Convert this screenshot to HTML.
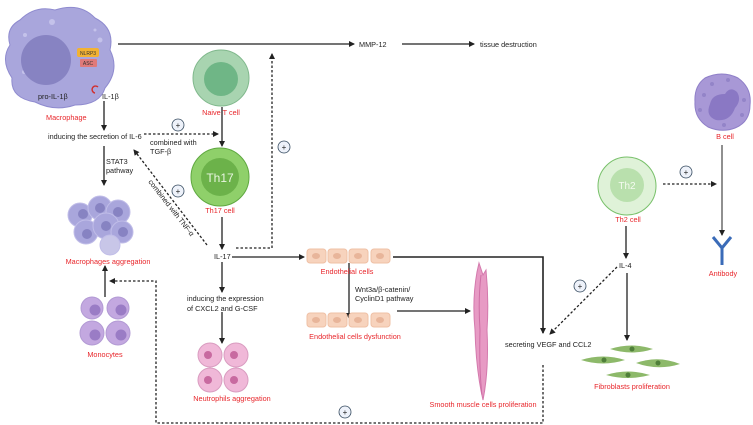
<!DOCTYPE html>
<html><head><meta charset="utf-8"><style>
html,body{margin:0;padding:0;background:#fff}
svg{display:block;font-family:"Liberation Sans",sans-serif}
.t{font-size:7.3px;fill:#222}
.r{font-size:7.3px;fill:#e8262b}
</style></head><body>
<svg width="753" height="425" viewBox="0 0 753 425" xmlns="http://www.w3.org/2000/svg">
<defs>
<marker id="a" markerWidth="6" markerHeight="6" refX="5" refY="3" orient="auto" markerUnits="userSpaceOnUse"><path d="M0,0 L6,3 L0,6z" fill="#222"/></marker>
</defs>
<g stroke="#222" stroke-width="1.3" fill="none">
<line x1="118" y1="44" x2="354" y2="44" marker-end="url(#a)"/>
<line x1="402" y1="44" x2="474" y2="44" marker-end="url(#a)"/>
<line x1="72" y1="90" x2="90" y2="90" marker-end="url(#a)" stroke-width="1.6"/>
<line x1="88" y1="70" x2="88" y2="83" stroke-dasharray="2,2" marker-end="url(#a)"/>
<line x1="104" y1="101" x2="104" y2="130" marker-end="url(#a)"/>
<line x1="144" y1="134" x2="218" y2="134" stroke-dasharray="2.5,2" marker-end="url(#a)"/>
<line x1="222" y1="107" x2="222" y2="146" marker-end="url(#a)"/>
<line x1="104" y1="146" x2="104" y2="185" marker-end="url(#a)"/>
<line x1="222" y1="217" x2="222" y2="249" marker-end="url(#a)"/>
<polyline points="236,248 272,248 272,54" stroke-dasharray="2.5,2" marker-end="url(#a)"/>
<line x1="207" y1="245" x2="134" y2="150" stroke-dasharray="2.5,2" marker-end="url(#a)"/>
<line x1="232" y1="257" x2="304" y2="257" marker-end="url(#a)"/>
<line x1="222" y1="262" x2="222" y2="292" marker-end="url(#a)"/>
<line x1="222" y1="312" x2="222" y2="343" marker-end="url(#a)"/>
<line x1="105" y1="297" x2="105" y2="266" marker-end="url(#a)"/>
<polyline points="543,365 543,423 156,423 156,281 110,281" stroke-dasharray="2.5,2" marker-end="url(#a)"/>
<polyline points="393,257 543,257 543,333" stroke-width="1.6" marker-end="url(#a)"/>
<line x1="349" y1="263" x2="349" y2="318" marker-end="url(#a)"/>
<line x1="397" y1="311" x2="470" y2="311" marker-end="url(#a)"/>
<line x1="617" y1="267" x2="550" y2="334" stroke-dasharray="2.5,2" marker-end="url(#a)"/>
<line x1="626" y1="226" x2="626" y2="258" marker-end="url(#a)"/>
<line x1="627" y1="273" x2="627" y2="340" marker-end="url(#a)"/>
<line x1="663" y1="184" x2="716" y2="184" stroke-dasharray="2.5,2" marker-end="url(#a)"/>
<line x1="722" y1="145" x2="722" y2="235" stroke="#555" marker-end="url(#a)"/>
</g>
<g fill="#eef2fa" stroke="#34495e" stroke-width="0.8">
<circle cx="178" cy="125" r="6"/><circle cx="178" cy="191" r="6"/><circle cx="284" cy="147" r="6"/>
<circle cx="345" cy="412" r="6"/><circle cx="580" cy="286" r="6"/><circle cx="686" cy="172" r="6"/>
</g>
<g font-size="8" fill="#222" text-anchor="middle">
<text x="178" y="128">+</text><text x="178" y="194">+</text><text x="284" y="150">+</text>
<text x="345" y="415">+</text><text x="580" y="289">+</text><text x="686" y="175">+</text>
</g>
<!-- macrophage -->
<path d="M20,20 Q35,5 55,10 Q80,2 95,18 Q115,28 110,50 Q120,70 105,88 Q100,105 75,105 Q55,112 35,102 Q10,98 12,78 Q0,60 10,45 Q5,28 20,20z" fill="#a9a6dc" stroke="#8f8bcf"/>
<g fill="#c4c2ea"><circle cx="52" cy="22" r="3"/><circle cx="25" cy="35" r="2"/><circle cx="100" cy="40" r="2.5"/><circle cx="24" cy="72" r="2"/><circle cx="95" cy="30" r="1.5"/></g>
<circle cx="46" cy="60" r="25" fill="#8783c2"/>
<rect x="77" y="48" width="22" height="9" rx="2" fill="#f2b233"/>
<text x="88" y="55" font-size="5" text-anchor="middle" fill="#333">NLRP3</text>
<rect x="80" y="59" width="17" height="8" rx="1" fill="#e07a7a"/>
<text x="88" y="65" font-size="5" text-anchor="middle" fill="#333">ASC</text>
<path d="M95,93 a3.5,3.5 0 1 1 3,-6" stroke="#d03030" fill="none" stroke-width="1.4"/>
<text class="t" x="38" y="99">pro-IL-1β</text>
<text class="t" x="102" y="99">IL-1β</text>
<text class="r" x="46" y="120">Macrophage</text>
<text class="t" x="48" y="139">inducing the secretion of IL-6</text>
<text class="t" x="150" y="145">combined with</text>
<text class="t" x="150" y="154">TGF-β</text>
<text class="t" x="106" y="164">STAT3</text>
<text class="t" x="106" y="173">pathway</text>
<text class="t" transform="translate(148,182) rotate(52)">combined with TNF-α</text>
<circle cx="221" cy="78" r="28" fill="#a8d4b0" stroke="#80b88c"/>
<circle cx="221" cy="79" r="17" fill="#6fb686"/>
<text class="r" x="221" y="115" text-anchor="middle">Naive T cell</text>
<circle cx="220" cy="177" r="29" fill="#8fd06a" stroke="#5fa840"/>
<circle cx="220" cy="177" r="19" fill="#6cb24a"/>
<text x="220" y="182" font-size="12" fill="#e8f5e0" text-anchor="middle">Th17</text>
<text class="r" x="220" y="213" text-anchor="middle">Th17 cell</text>
<text class="t" x="214" y="259">IL-17</text>
<!-- macrophage cluster -->
<g fill="#a9a6dc" stroke="#c0bde8">
<circle cx="80" cy="215" r="12"/><circle cx="100" cy="208" r="12"/><circle cx="118" cy="212" r="12"/>
<circle cx="86" cy="232" r="12"/><circle cx="106" cy="226" r="13"/><circle cx="122" cy="232" r="11"/><circle cx="110" cy="245" r="10" fill="#c8c6e8"/>
</g>
<g fill="#8783c2"><circle cx="83" cy="214" r="5"/><circle cx="100" cy="208" r="5"/><circle cx="118" cy="212" r="5"/><circle cx="106" cy="226" r="5"/><circle cx="123" cy="232" r="5"/><circle cx="87" cy="234" r="5"/></g>
<text class="r" x="108" y="264" text-anchor="middle">Macrophages aggregation</text>
<g fill="#c3a8e0" stroke="#b29ad4"><circle cx="92" cy="308" r="11"/><circle cx="118" cy="308" r="11"/><circle cx="92" cy="333" r="12"/><circle cx="118" cy="333" r="12"/></g>
<g fill="#9a7cc5"><circle cx="95" cy="310" r="5.5"/><circle cx="121" cy="310" r="5.5"/><circle cx="95" cy="335" r="5.5"/><circle cx="121" cy="335" r="5.5"/></g>
<text class="r" x="105" y="357" text-anchor="middle">Monocytes</text>
<text class="t" x="187" y="301">inducing the expression</text>
<text class="t" x="187" y="311">of CXCL2 and G-CSF</text>
<g fill="#f0b8d8" stroke="#d99cc0"><circle cx="210" cy="355" r="12"/><circle cx="236" cy="355" r="12"/><circle cx="210" cy="380" r="12"/><circle cx="236" cy="380" r="12"/></g>
<g fill="#c86aa0"><circle cx="208" cy="355" r="4"/><circle cx="234" cy="355" r="4"/><circle cx="208" cy="380" r="4"/><circle cx="234" cy="380" r="4"/></g>
<text class="r" x="232" y="401" text-anchor="middle">Neutrophils aggregation</text>
<g fill="#f7d3bd" stroke="#efc0a5">
<rect x="307" y="249" width="19" height="14" rx="3"/><rect x="328" y="249" width="19" height="14" rx="3"/><rect x="349" y="249" width="19" height="14" rx="3"/><rect x="371" y="249" width="19" height="14" rx="3"/>
<rect x="307" y="313" width="19" height="14" rx="3"/><rect x="328" y="313" width="19" height="14" rx="3"/><rect x="349" y="313" width="19" height="14" rx="3"/><rect x="371" y="313" width="19" height="14" rx="3"/>
</g>
<g fill="#e8b59a"><ellipse cx="316" cy="256" rx="4" ry="3"/><ellipse cx="337" cy="256" rx="4" ry="3"/><ellipse cx="358" cy="256" rx="4" ry="3"/><ellipse cx="380" cy="256" rx="4" ry="3"/>
<ellipse cx="316" cy="320" rx="4" ry="3"/><ellipse cx="337" cy="320" rx="4" ry="3"/><ellipse cx="358" cy="320" rx="4" ry="3"/><ellipse cx="380" cy="320" rx="4" ry="3"/></g>
<text class="r" x="347" y="274" text-anchor="middle">Endothelial cells</text>
<text class="t" x="355" y="292">Wnt3a/β-catenin/</text>
<text class="t" x="355" y="301">CyclinD1 pathway</text>
<text class="r" x="355" y="339" text-anchor="middle">Endothelial cells dysfunction</text>
<!-- smooth muscle -->
<path d="M479,263 L483,275 L486,270 Q489,300 487,330 Q489,370 483,400 Q476,370 475,330 Q472,300 477,272z" fill="#e79ac4" stroke="#d47aad"/>
<path d="M481,275 Q478,300 480,330 Q479,370 482,395" stroke="#cf6ea5" fill="none"/>
<text class="r" x="483" y="407" text-anchor="middle">Smooth muscle cells proliferation</text>
<text class="t" x="505" y="347">secreting VEGF and CCL2</text>
<circle cx="627" cy="186" r="29" fill="#dff2d8" stroke="#78c06a"/>
<circle cx="627" cy="185" r="17" fill="#b9e0ad"/>
<text x="627" y="189" font-size="10" fill="#f4fbf0" text-anchor="middle">Th2</text>
<text class="r" x="628" y="222" text-anchor="middle">Th2 cell</text>
<text class="t" x="619" y="268">IL-4</text>
<g fill="#8db96a"><path d="M610,349 Q632,342 653,349 Q632,356 610,349z"/><path d="M581,360 Q603,353 625,360 Q603,367 581,360z"/><path d="M636,363 Q658,355 680,364 Q658,371 636,363z"/><path d="M606,375 Q628,368 650,375 Q628,381 606,375z"/></g>
<g fill="#4f7f3a"><circle cx="632" cy="349" r="2.5"/><circle cx="604" cy="360" r="2.5"/><circle cx="658" cy="363" r="2.5"/><circle cx="628" cy="375" r="2.5"/></g>
<text class="r" x="632" y="389" text-anchor="middle">Fibroblasts proliferation</text>
<!-- B cell -->
<path d="M705,78 Q722,70 738,78 Q752,88 750,105 Q750,122 735,128 Q722,133 708,127 Q694,118 695,102 Q694,86 705,78z" fill="#a898d6" stroke="#8f7fc8"/>
<g fill="#9384c8"><circle cx="704" cy="95" r="2"/><circle cx="712" cy="84" r="2"/><circle cx="728" cy="80" r="2"/><circle cx="744" cy="100" r="2"/><circle cx="742" cy="115" r="2"/><circle cx="700" cy="110" r="2"/><circle cx="724" cy="125" r="2"/></g>
<path d="M710,104 Q712,94 725,94 Q730,86 737,92 Q742,100 735,108 Q730,122 716,120 Q705,116 710,104z" fill="#8a78c4"/>
<text class="r" x="725" y="139" text-anchor="middle">B cell</text>
<g stroke="#3a6bb8" stroke-width="3" fill="none"><path d="M713,237 L722,248 L731,237"/><line x1="722" y1="248" x2="722" y2="265"/></g>
<text class="r" x="723" y="276" text-anchor="middle">Antibody</text>
<text class="t" x="359" y="47">MMP-12</text>
<text class="t" x="480" y="47">tissue destruction</text>
</svg>
</body></html>
